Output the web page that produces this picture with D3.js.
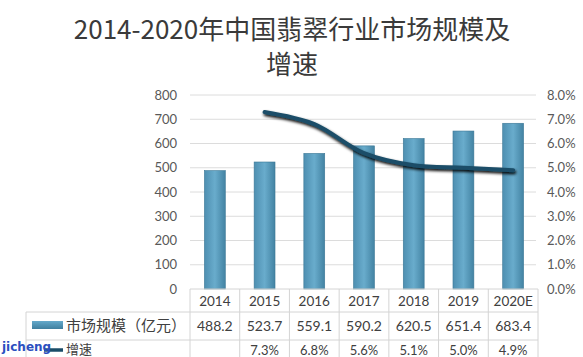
<!DOCTYPE html>
<html><head><meta charset="utf-8">
<script src="https://cdn.jsdelivr.net/npm/d3@7"></script>
<style>body{margin:0;background:#fff}svg{display:block}</style>
</head><body>
<svg id="c" width="583" height="357"></svg>
<script>
const years = ["2014","2015","2016","2017","2018","2019","2020E"];
const marketSize = [488.2,523.7,559.1,590.2,620.5,651.4,683.4];
const growth = [null,7.3,6.8,5.6,5.1,5.0,4.9];
const leftTicks = [0,100,200,300,400,500,600,700,800];
const rightTicks = [0,1,2,3,4,5,6,7,8];
const titleLines = ["2014-2020年中国翡翠行业市场规模及","增速"];
const seriesNames = ["市场规模（亿元）","增速"];

const svg = d3.select("#c");
const L = 190, R = 538, T = 95, B = 289;
const x = d3.scaleBand().domain(years).range([L, R]).paddingInner(0.58).paddingOuter(0.29);
const xb = d3.scaleBand().domain(years).range([L, R]);
const y = d3.scaleLinear().domain([0, 800]).range([B, T]);
const y2 = d3.scaleLinear().domain([0, 8]).range([B, T]);

const defs = svg.append("defs");
const g1 = defs.append("linearGradient").attr("id","barg").attr("x1",0).attr("x2",0).attr("y1",0).attr("y2",1);
g1.append("stop").attr("offset","0%").attr("stop-color","#64a9cb");
g1.append("stop").attr("offset","100%").attr("stop-color","#3f7f9f");
const g2 = defs.append("linearGradient").attr("id","barh").attr("x1",0).attr("x2",1).attr("y1",0).attr("y2",0);
g2.append("stop").attr("offset","0%").attr("stop-color","#4e8fb1");
g2.append("stop").attr("offset","50%").attr("stop-color","#69accc");
g2.append("stop").attr("offset","100%").attr("stop-color","#4383a3");
const f = defs.append("filter").attr("id","sh").attr("x","-10%").attr("y","-50%").attr("width","120%").attr("height","200%");
f.append("feGaussianBlur").attr("in","SourceAlpha").attr("stdDeviation",1.5);
f.append("feOffset").attr("dx",1).attr("dy",2).attr("result","o");
const fm = f.append("feMerge"); fm.append("feMergeNode").attr("in","o"); fm.append("feMergeNode").attr("in","SourceGraphic");

// title
svg.append("g").selectAll("text").data(titleLines).join("text")
  .attr("x", 292).attr("y", (d,i)=> 39 + i*35)
  .attr("text-anchor","middle")
  .attr("font-family","'Noto Sans CJK SC', sans-serif")
  .attr("font-size", 26).attr("fill","#3a3a3a").text(d=>d);

// gridlines
svg.append("g").selectAll("line").data(leftTicks.slice(1)).join("line")
  .attr("x1", L).attr("x2", R-2).attr("y1", d=>y(d)).attr("y2", d=>y(d))
  .attr("stroke","#dcdcdc").attr("stroke-width",1);

// left axis
const yAxis = d3.axisLeft(y).tickValues(leftTicks).tickSize(0).tickPadding(13);
const ga = svg.append("g").attr("transform",`translate(${L},0)`).call(yAxis);
ga.select(".domain").remove();
ga.selectAll("text").attr("font-family","Lato, sans-serif").attr("font-size",13).attr("fill","#595959");

// right axis
const yAxis2 = d3.axisRight(y2).tickValues(rightTicks).tickSize(0).tickPadding(9).tickFormat(d=>d.toFixed(1)+"%");
const gb = svg.append("g").attr("transform",`translate(${R},0)`).call(yAxis2);
gb.select(".domain").remove();
gb.selectAll("text").attr("font-family","Lato, sans-serif").attr("font-size",13).attr("fill","#595959");

// bars
svg.append("g").selectAll("rect").data(marketSize).join("rect")
  .attr("x",(d,i)=>x(years[i])).attr("width",x.bandwidth())
  .attr("y",d=>y(d)).attr("height",d=>B-y(d))
  .attr("fill","url(#barh)").attr("stroke","#3b7795").attr("stroke-width",0.6);

// line
const lineData = growth.map((v,i)=>({k:years[i],v})).filter(d=>d.v!==null);
svg.append("path").datum(lineData)
  .attr("d", d3.line().x(d=>xb(d.k)+xb.bandwidth()/2).y(d=>y2(d.v)).curve(d3.curveCatmullRom.alpha(0.5)))
  .attr("fill","none").attr("stroke","#1a4d68").attr("stroke-width",4).attr("stroke-linecap","round")
  .attr("filter","url(#sh)");

// data table
const tg = svg.append("g");
const gridC = "#d4d4d4";
tg.append("line").attr("x1",L).attr("x2",R).attr("y1",B).attr("y2",B).attr("stroke",gridC);
[312,340].forEach(yy=>tg.append("line").attr("x1",26).attr("x2",R).attr("y1",yy).attr("y2",yy).attr("stroke",gridC));
tg.append("line").attr("x1",26).attr("x2",26).attr("y1",312).attr("y2",357).attr("stroke",gridC);
tg.selectAll(".vl").data(years.concat(["end"])).join("line")
  .attr("x1",(d,i)=>L+i*xb.bandwidth()).attr("x2",(d,i)=>L+i*xb.bandwidth())
  .attr("y1",B).attr("y2",357).attr("stroke",gridC);

const numFont = "Lato, sans-serif";
tg.selectAll(".yr").data(years).join("text")
  .attr("x",d=>xb(d)+xb.bandwidth()/2).attr("y",306).attr("text-anchor","middle")
  .attr("font-family",numFont).attr("font-size",13.5).attr("fill","#404040").text(d=>d);
tg.selectAll(".ms").data(marketSize).join("text")
  .attr("x",(d,i)=>xb(years[i])+xb.bandwidth()/2).attr("y",331).attr("text-anchor","middle")
  .attr("font-family",numFont).attr("font-size",14).attr("fill","#404040").text(d=>d.toFixed(1));
tg.selectAll(".gr").data(growth).join("text")
  .attr("x",(d,i)=>xb(years[i])+xb.bandwidth()/2).attr("y",355).attr("text-anchor","middle")
  .attr("font-family",numFont).attr("font-size",13).attr("fill","#404040").text(d=>d===null?"":d.toFixed(1)+"%");

// legend keys in table
tg.append("rect").attr("x",32).attr("y",321).attr("width",31).attr("height",8).attr("fill","url(#barg)");
tg.append("line").attr("x1",44).attr("x2",63).attr("y1",350).attr("y2",350).attr("stroke","#1a4d68").attr("stroke-width",3.5);
tg.selectAll(".ln").data(seriesNames).join("text")
  .attr("x",66).attr("y",(d,i)=>i===0?331:354)
  .attr("font-family","'Noto Sans CJK SC', sans-serif").attr("font-size",(d,i)=>i===0?15:13).attr("fill","#404040").text(d=>d);

// watermark
svg.append("text").attr("x",2).attr("y",351).attr("font-family","'DejaVu Sans', sans-serif")
  .attr("font-weight","bold").attr("font-size",12).attr("fill","#2b4fc0").text("jicheng");
</script>
</body></html>
